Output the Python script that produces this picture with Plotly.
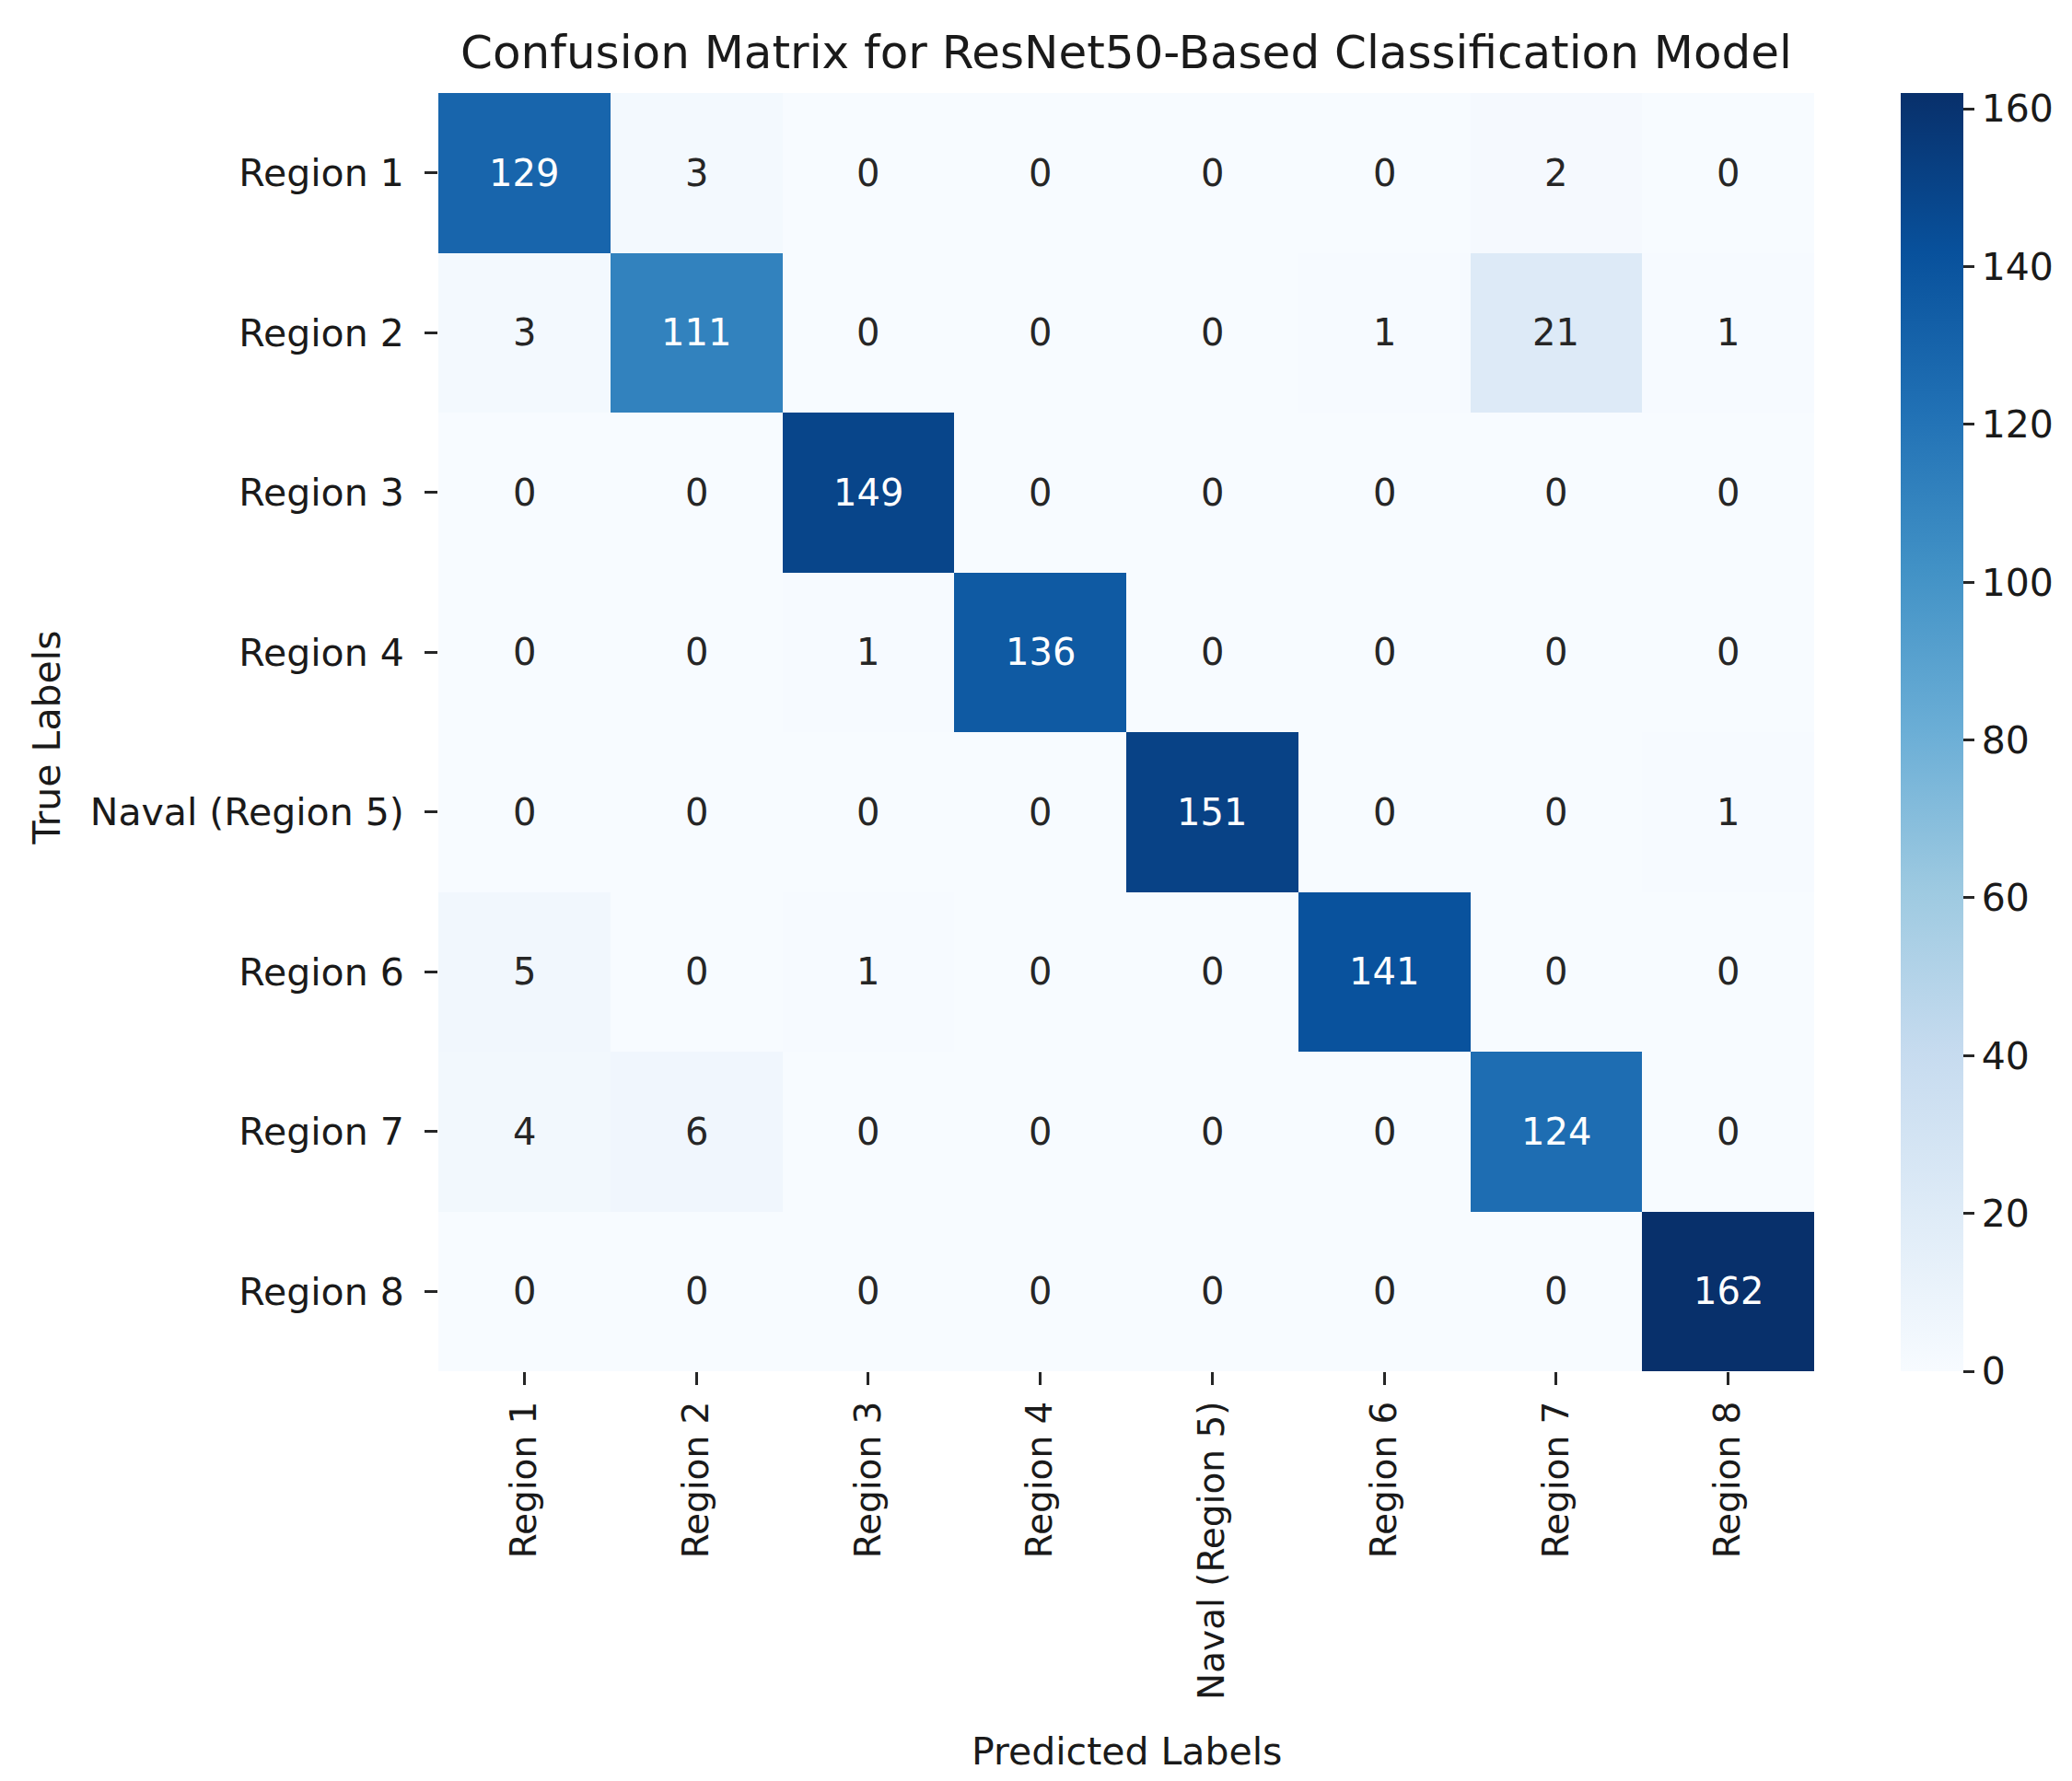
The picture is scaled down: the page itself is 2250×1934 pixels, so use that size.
import plotly.graph_objects as go
from plotly.colors import sample_colorscale, unlabel_rgb

labels = ["Region 1", "Region 2", "Region 3", "Region 4",
          "Naval (Region 5)", "Region 6", "Region 7", "Region 8"]

# rows = true label, columns = predicted label
row_region1 = [129, 3, 0, 0, 0, 0, 2, 0]
row_region2 = [3, 111, 0, 0, 0, 1, 21, 1]
row_region3 = [0, 0, 149, 0, 0, 0, 0, 0]
row_region4 = [0, 0, 1, 136, 0, 0, 0, 0]
row_naval5 = [0, 0, 0, 0, 151, 0, 0, 1]
row_region6 = [5, 0, 1, 0, 0, 141, 0, 0]
row_region7 = [4, 6, 0, 0, 0, 0, 124, 0]
row_region8 = [0, 0, 0, 0, 0, 0, 0, 162]

cbar_ticks = [0, 20, 40, 60, 80, 100, 120, 140, 160]

cm = [row_region1, row_region2, row_region3, row_region4,
      row_naval5, row_region6, row_region7, row_region8]

# matplotlib "Blues" (colorbrewer 9)
blues = ["#f7fbff", "#deebf7", "#c6dbef", "#9ecae1", "#6baed6",
         "#4292c6", "#2171b5", "#08519c", "#08306b"]
colorscale = [[i / (len(blues) - 1), c] for i, c in enumerate(blues)]

FONT = "DejaVu Sans"
zmin = 0
zmax = max(max(r) for r in cm)


def text_color(v):
    # same rule seaborn uses for annotations
    c = sample_colorscale(colorscale, [(v - zmin) / (zmax - zmin)])[0]
    rgb = [x / 255 for x in unlabel_rgb(c)]
    lin = [x / 12.92 if x <= 0.03928 else ((x + 0.055) / 1.055) ** 2.4 for x in rgb]
    lum = 0.2126 * lin[0] + 0.7152 * lin[1] + 0.0722 * lin[2]
    return "#262626" if lum > 0.408 else "white"


fig = go.Figure(go.Heatmap(
    z=cm,
    x=labels,
    y=labels,
    zmin=zmin,
    zmax=zmax,
    colorscale=colorscale,
    colorbar=dict(
        x=1.0629, xanchor="left", xpad=0,
        y=0.5, yanchor="middle", ypad=0,
        len=1, lenmode="fraction",
        thickness=68, thicknessmode="pixels",
        outlinewidth=0,
        tickvals=cbar_ticks,
        ticks="outside", ticklen=12, tickwidth=3, tickcolor="#262626",
        tickfont=dict(family=FONT, size=41, color="#1a1a1a"),
    ),
    hovertemplate="True: %{y}<br>Predicted: %{x}<br>Count: %{z}<extra></extra>",
))

annotations = []
for i, row in enumerate(cm):
    for j, v in enumerate(row):
        annotations.append(dict(
            x=labels[j], y=labels[i], xref="x", yref="y",
            text=str(v), showarrow=False,
            font=dict(family=FONT, size=40, color=text_color(v)),
        ))

annotations.append(dict(
    text="Predicted Labels", xref="paper", yref="paper",
    x=0.5, y=-0.2976, xanchor="center", yanchor="middle",
    showarrow=False, font=dict(family=FONT, size=41, color="#1a1a1a"),
))
annotations.append(dict(
    text="True Labels", xref="paper", yref="paper",
    x=-0.2845, y=0.496, xanchor="center", yanchor="middle", textangle=-90,
    showarrow=False, font=dict(family=FONT, size=41, color="#1a1a1a"),
))

fig.update_layout(
    width=2250,
    height=1934,
    margin=dict(l=468, r=288, t=93, b=453),
    paper_bgcolor="white",
    plot_bgcolor="white",
    title=dict(
        text="Confusion Matrix for ResNet50-Based Classification Model",
        x=0.5, xref="paper", xanchor="center",
        y=1 - 48 / 1934, yref="container", yanchor="middle",
        font=dict(family=FONT, size=50, color="#1a1a1a"),
    ),
    annotations=annotations,
    xaxis=dict(
        tickangle=-90,
        ticks="outside", ticklen=14, tickwidth=3, tickcolor="#262626",
        ticklabelstandoff=2,
        tickfont=dict(family=FONT, size=39, color="#1a1a1a"),
        showgrid=False, zeroline=False, showline=False,
    ),
    yaxis=dict(
        autorange="reversed",
        ticks="outside", ticklen=14, tickwidth=3, tickcolor="#262626",
        ticklabelstandoff=14,
        tickfont=dict(family=FONT, size=41, color="#1a1a1a"),
        showgrid=False, zeroline=False, showline=False,
    ),
)

fig.write_html("out.html")
